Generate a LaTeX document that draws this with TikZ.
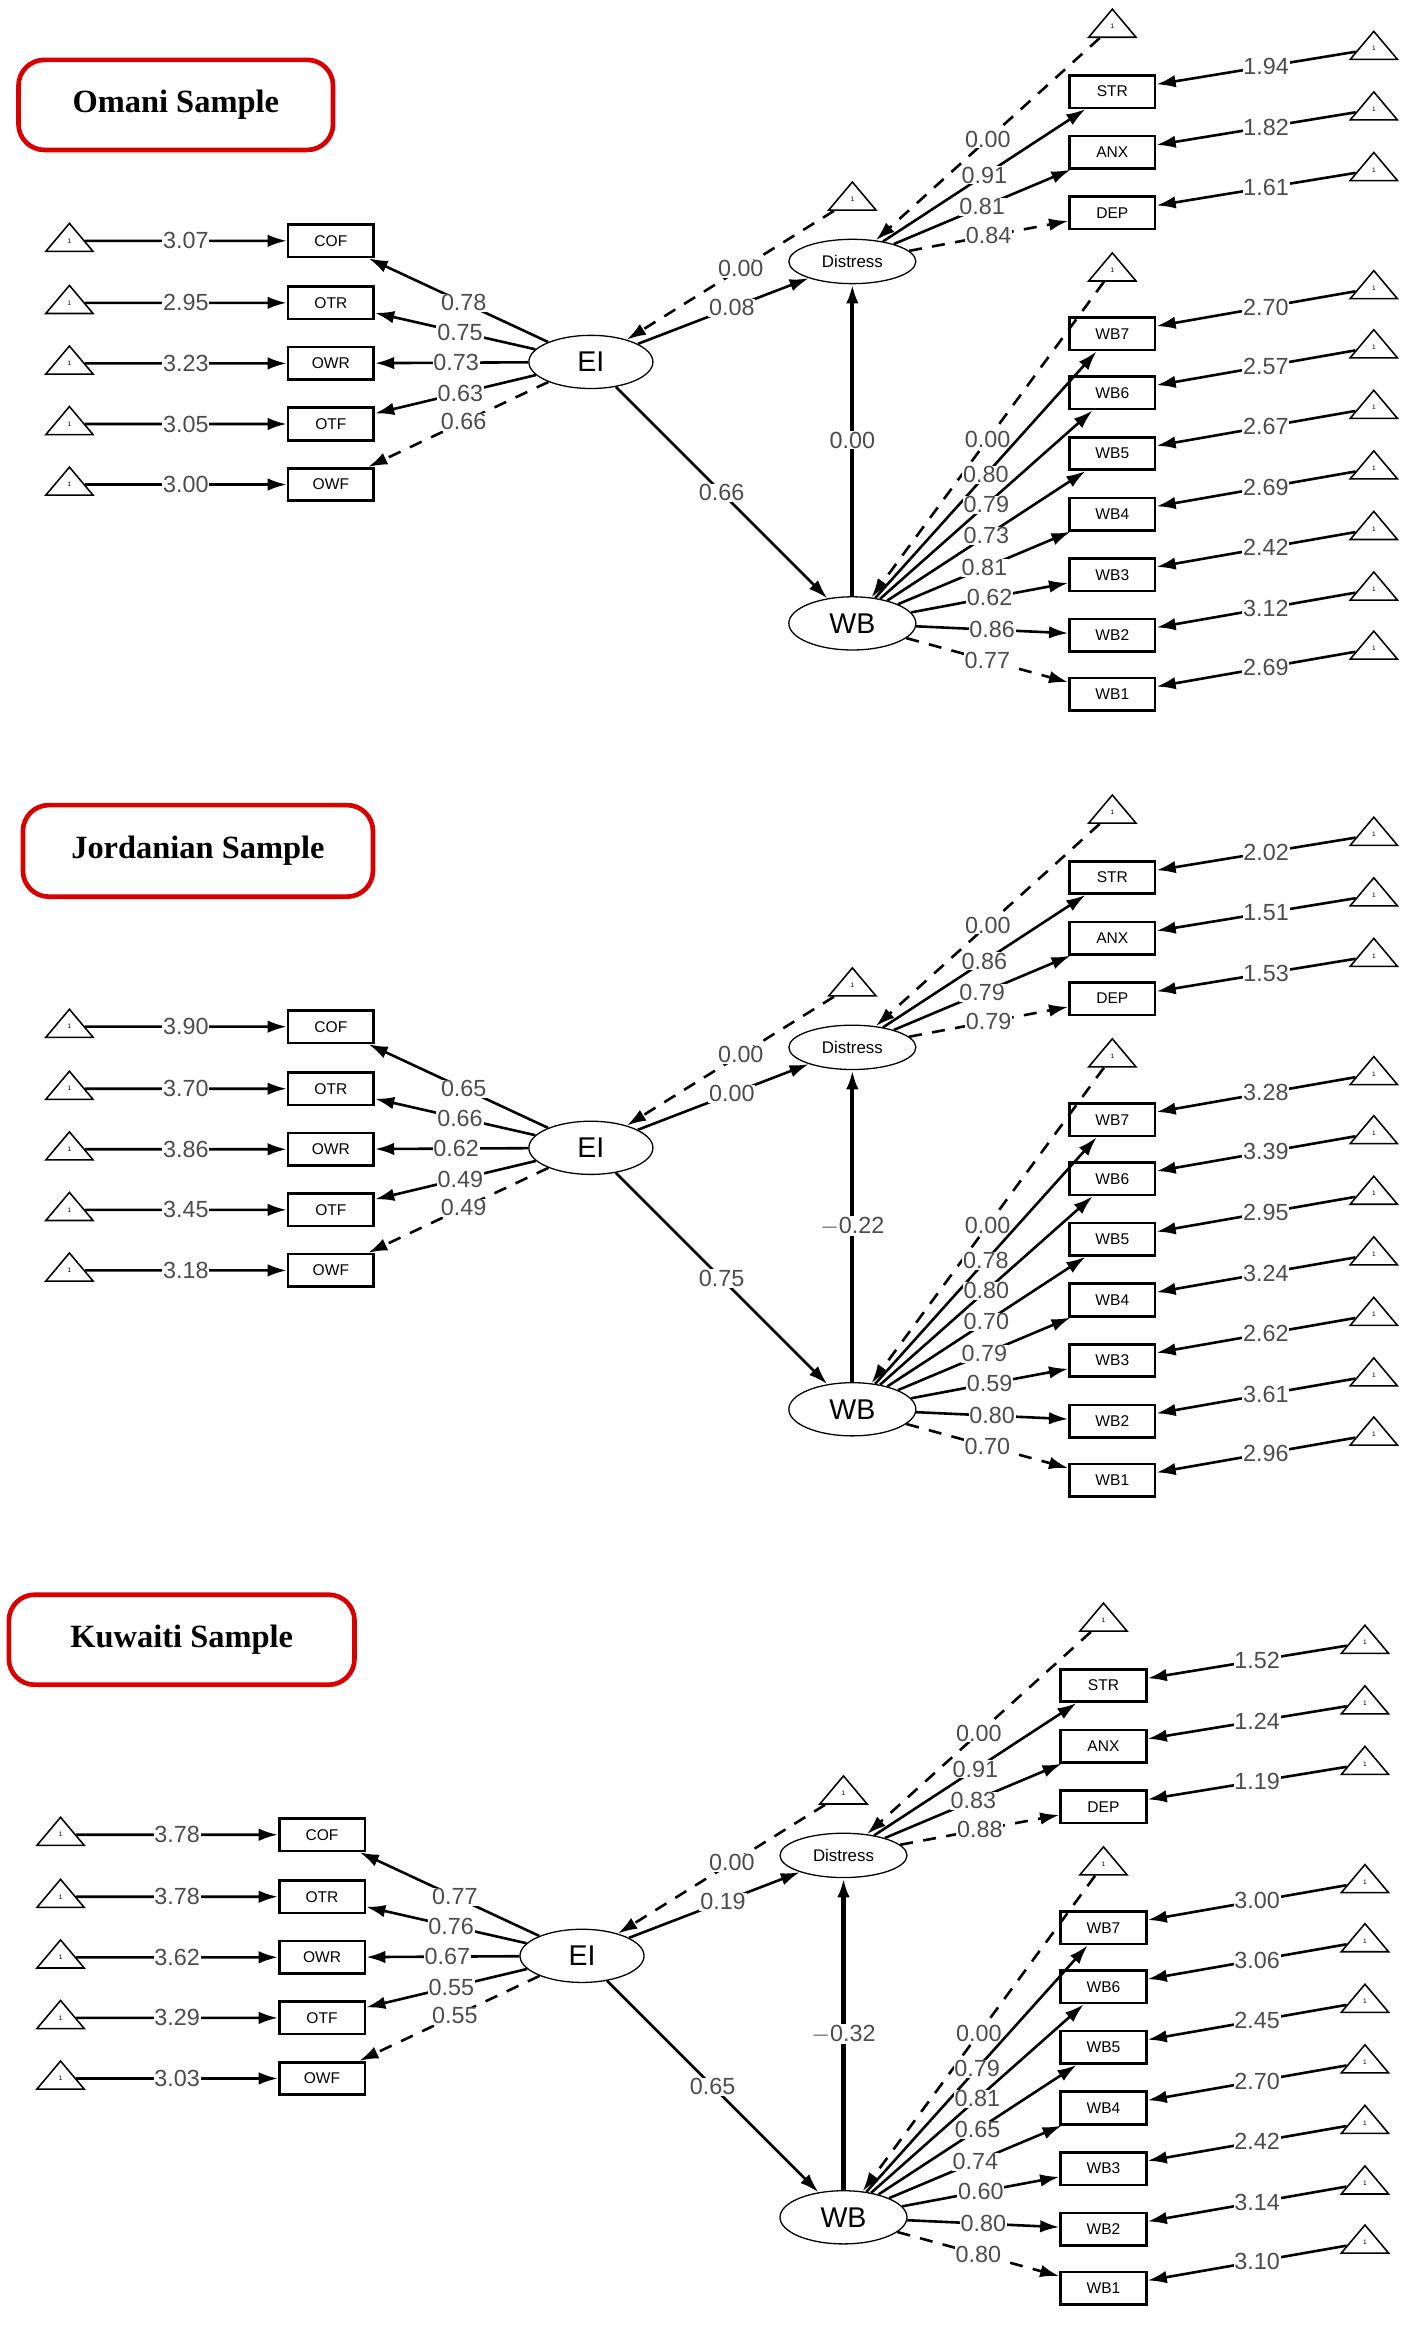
\documentclass[tikz,border=0pt]{standalone}
\usepackage{fontspec}
\setmainfont{Liberation Sans}
\newfontfamily\ttl{Liberation Serif}
\usetikzlibrary{shapes.geometric,arrows.meta}
\tikzset{
 box/.style={draw, line width=1pt, minimum width=1.16cm, minimum height=0.44cm, inner sep=0, font=\fontsize{6}{7}\selectfont},
 lat/.style={draw, ellipse, line width=0.5pt, inner sep=0},
 tri/.style={draw, isosceles triangle, shape border rotate=90, isosceles triangle apex angle=100, isosceles triangle stretches, minimum width=0.64cm, minimum height=0.38cm, inner sep=0, line width=0.6pt, font=\fontsize{2.5}{3}\selectfont},
 arr/.style={-{Latex[length=2.6mm,width=1.7mm]}, line width=1pt},
 dsh/.style={arr, dash pattern=on 5pt off 4pt},
 lab/.style={font=\fontsize{9}{10}\selectfont, text=black!70, fill=white, inner sep=0.3pt},
 ttlbox/.style={draw=red!85!black, line width=1.8pt, rounded corners=0.35cm, font=\ttl\bfseries\fontsize{12.5}{14}\selectfont},
}
\newcommand\drawpanel[2]{%
\begin{scope}[shift={#1}]
 \foreach \n/\yy [count=\i] in {COF/163,OTR/205,OWR/246,OTF/287,OWF/328}{
  \node[box] (#2L\i) at (224,\yy) {\n};
  \node[tri] (#2LT\i) at (47,\yy) {1};
 }
 \foreach \v [count=\i] in \Lint {\draw[arr] (#2LT\i) -- node[lab]{\v} (#2L\i);}
 \node[lat, minimum width=1.68cm, minimum height=0.72cm, font=\fontsize{11}{12}\selectfont] (#2EI) at (400,245) {EI};
 \node[lat, minimum width=1.72cm, minimum height=0.6cm, font=\fontsize{6.5}{7}\selectfont] (#2D) at (577,177) {Distress};
 \node[lat, minimum width=1.72cm, minimum height=0.72cm, font=\fontsize{11}{12}\selectfont] (#2WB) at (577,422) {WB};
 \foreach \v [count=\i] in \Lload {\draw[arr] (#2EI) -- node[lab,pos=0.47]{\v} (#2L\i);}
 \draw[dsh] (#2EI) -- node[lab,pos=0.47]{\LloadF} (#2L5);
 \node[tri] (#2DT) at (577,135) {1};
 \node[tri] (#2DT2) at (753,18) {1};
 \node[tri] (#2WT) at (753,183) {1};
 \draw[dsh] (#2DT) -- node[lab,pos=0.45]{0.00} (#2EI);
 \draw[arr] (#2EI) -- node[lab,pos=0.55]{\EID} (#2D);
 \draw[arr] (#2EI) -- node[lab,pos=0.5]{\EIW} (#2WB);
 \draw[arr, line width=1.6pt] (#2WB) -- node[lab]{\WBD} (#2D);
 \foreach \n/\yy [count=\i] in {STR/62,ANX/103,DEP/144}{
  \node[box] (#2R\i) at (753,\yy) {\n};
  \node[tri] (#2RT\i) at (930,\yy-29) {1};
 }
 \foreach \n/\yy [count=\i] in {WB7/226,WB6/266,WB5/307,WB4/348,WB3/389,WB2/430,WB1/470}{
  \node[box] (#2W\i) at (753,\yy) {\n};
  \node[tri] (#2WTT\i) at (930,\yy-31) {1};
 }
 \draw[dsh] (#2DT2) -- node[lab,pos=0.5]{0.00} (#2D);
 \foreach \v [count=\i] in \Dl {\draw[arr] (#2D) -- node[lab,pos=0.5]{\v} (#2R\i);}
 \draw[dsh] (#2D) -- node[lab,pos=0.5]{\DlF} (#2R3);
 \foreach \v [count=\i] in \Dint {\draw[arr] (#2RT\i) -- node[lab,pos=0.45]{\v} (#2R\i);}
 \draw[dsh] (#2WT) -- node[lab,pos=0.5]{0.00} (#2WB);
 \foreach \v [count=\i] in \Wl {\draw[arr] (#2WB) -- node[lab,pos=0.5]{\v} (#2W\i);}
 \draw[dsh] (#2WB) -- node[lab,pos=0.5]{\WlF} (#2W7);
 \foreach \v [count=\i] in \Wint {\draw[arr] (#2WTT\i) -- node[lab,pos=0.45]{\v} (#2W\i);}
\end{scope}}
\begin{document}
\begin{tikzpicture}[x=0.02cm,y=-0.02cm]
\useasboundingbox (0,0) rectangle (960,1580);
\node[ttlbox, minimum width=4.26cm, minimum height=1.22cm] (t1) at (119,71) {Omani Sample};
\node[ttlbox, minimum width=4.74cm, minimum height=1.24cm] (t2) at (134,576) {Jordanian Sample};
\node[ttlbox, minimum width=4.68cm, minimum height=1.22cm] (t3) at (123,1110) {Kuwaiti Sample};
% Omani
\def\Lint{3.07,2.95,3.23,3.05,3.00}\def\Lload{0.78,0.75,0.73,0.63}\def\LloadF{0.66}
\def\EID{0.08}\def\EIW{0.66}\def\WBD{0.00}
\def\Dl{0.91,0.81}\def\DlF{0.84}\def\Dint{1.94,1.82,1.61}
\def\Wl{0.80,0.79,0.73,0.81,0.62,0.86}\def\WlF{0.77}\def\Wint{2.70,2.57,2.67,2.69,2.42,3.12,2.69}
\drawpanel{(0,0)}{a}
% Jordanian
\def\Lint{3.90,3.70,3.86,3.45,3.18}\def\Lload{0.65,0.66,0.62,0.49}\def\LloadF{0.49}
\def\EID{0.00}\def\EIW{0.75}\def\WBD{$-$0.22}
\def\Dl{0.86,0.79}\def\DlF{0.79}\def\Dint{2.02,1.51,1.53}
\def\Wl{0.78,0.80,0.70,0.79,0.59,0.80}\def\WlF{0.70}\def\Wint{3.28,3.39,2.95,3.24,2.62,3.61,2.96}
\drawpanel{(0,532)}{b}
% Kuwaiti
\def\Lint{3.78,3.78,3.62,3.29,3.03}\def\Lload{0.77,0.76,0.67,0.55}\def\LloadF{0.55}
\def\EID{0.19}\def\EIW{0.65}\def\WBD{$-$0.32}
\def\Dl{0.91,0.83}\def\DlF{0.88}\def\Dint{1.52,1.24,1.19}
\def\Wl{0.79,0.81,0.65,0.74,0.60,0.80}\def\WlF{0.80}\def\Wint{3.00,3.06,2.45,2.70,2.42,3.14,3.10}
\drawpanel{(-6,1079)}{c}
\end{tikzpicture}
\end{document}
